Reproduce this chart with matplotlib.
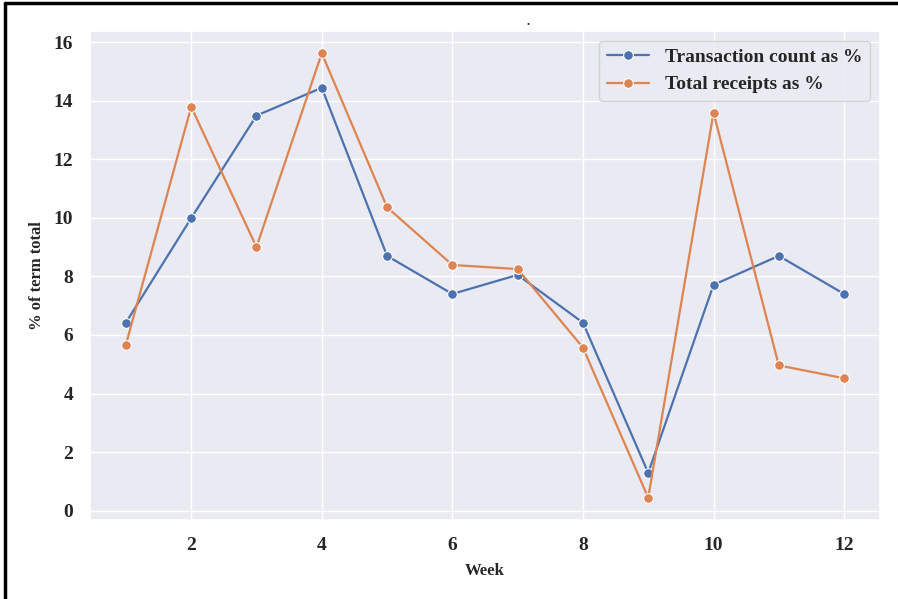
import matplotlib
matplotlib.use("Agg")
import matplotlib.pyplot as plt
import seaborn as sns
from matplotlib.lines import Line2D

weeks = [1, 2, 3, 4, 5, 6, 7, 8, 9, 10, 11, 12]
txn_pct = [6.42, 9.99, 13.49, 14.44, 8.70, 7.40, 8.05, 6.42, 1.29, 7.71, 8.70, 7.40]
receipts_pct = [5.67, 13.79, 9.0, 15.62, 10.36, 8.39, 8.25, 5.57, 0.44, 13.59, 4.96, 4.52]

sns.set_theme(style="darkgrid")
plt.rcParams["font.family"] = ["Liberation Serif", "DejaVu Serif"]
plt.rcParams["font.weight"] = "bold"

fig = plt.figure(figsize=(8.98, 5.99), dpi=100)
ax = fig.add_axes([90 / 898, 1 - 520 / 599, 790 / 898, 489 / 599])

blue, orange = sns.color_palette("deep")[:2]
ax.plot(weeks, txn_pct, "-o", color=blue, lw=1.6, ms=7, mec="white", mew=0.8,
        label="Transaction count as %")
ax.plot(weeks, receipts_pct, "-o", color=orange, lw=1.6, ms=7, mec="white", mew=0.8,
        label="Total receipts as %")

ax.set_xticks([2, 4, 6, 8, 10, 12])
ax.set_yticks(range(0, 17, 2))
ax.tick_params(labelsize=14, pad=6)
for t in ax.get_xticklabels() + ax.get_yticklabels():
    t.set_fontweight("bold")
ax.set_xlabel("Week", fontsize=12, fontweight="bold", labelpad=7)
ax.set_ylabel("% of term total", fontsize=12, fontweight="bold", labelpad=6)
fig.text(528 / 898, 1 - 22 / 599, ".", fontsize=9, ha="center", va="center")
ax.legend(loc="upper right", prop={"size": 14, "weight": "bold"}, frameon=True,
          handlelength=2.2)

# frame lines on the top and left edge of the image
fig.add_artist(Line2D([5 / 898, 5 / 898], [0, 1 - 3 / 599], color="black", lw=2.5))
fig.add_artist(Line2D([5 / 898, 1], [1 - 3 / 599, 1 - 3 / 599], color="black", lw=2.5))

fig.savefig("out.png", dpi=100)
